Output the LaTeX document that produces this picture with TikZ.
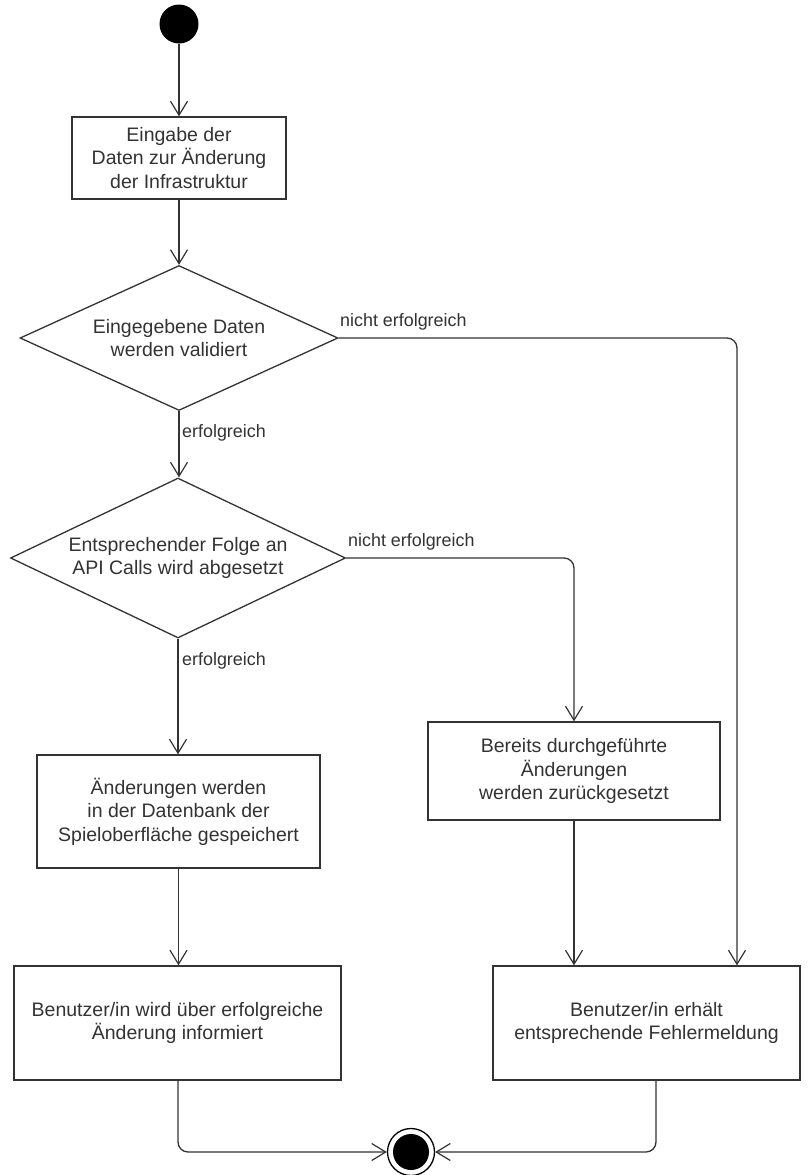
\documentclass[tikz,border=0pt]{standalone}
\usepackage{fontspec}
\setmainfont{Liberation Sans}
\usetikzlibrary{arrows.meta,shapes.geometric}
\definecolor{linec}{HTML}{333333}
\definecolor{textc}{HTML}{333333}
\tikzset{
  every picture/.style={x=1pt,y=-1pt},
  flow/.style={draw=linec, line width=1.3pt, -{Straight Barb[length=14pt,width=17pt,line width=1.2pt]}, rounded corners=10pt},
  actbox/.style={draw=linec, line width=1.3pt, rectangle, inner sep=0pt, align=center, text=textc, font=\fontsize{19.5}{23.4}\selectfont},
  dia/.style={draw=linec, line width=1.3pt, diamond, inner sep=0pt, shape aspect=1},
  diatext/.style={align=center, text=textc, font=\fontsize{19.5}{23.4}\selectfont},
  elabel/.style={text=textc, font=\fontsize{17.9}{21}\selectfont, inner sep=0pt},
  startnode/.style={circle, fill=black, inner sep=0pt, minimum size=39pt},
  endouter/.style={circle, draw=black, line width=1.3pt, fill=white, inner sep=0pt, minimum size=47pt},
  endinner/.style={circle, fill=black, inner sep=0pt, minimum size=36pt}
}
\begin{document}
\begin{tikzpicture}
\useasboundingbox[fill=white] (0,0) rectangle (808,1175);

\node[startnode] (start) at (179,24) {};
\node[actbox, minimum width=214pt, minimum height=82pt] (b1) at (179,158) {Eingabe der\\Daten zur Änderung\\der Infrastruktur};

\node[dia, minimum width=318pt, minimum height=145pt] (d1) at (179,338) {};
\node[diatext] (d1t) at (179,338) {Eingegebene Daten\\werden validiert};

\node[dia, minimum width=335pt, minimum height=160pt] (d2) at (178,558) {};
\node[diatext] (d2t) at (178,558) {Entsprechender Folge an\\API Calls wird abgesetzt};

\node[actbox, minimum width=283pt, minimum height=113pt] (b3) at (178.5,811.5) {Änderungen werden\\in der Datenbank der\\Spieloberfläche gespeichert};
\node[actbox, minimum width=292pt, minimum height=98pt] (b4) at (574,771) {Bereits durchgeführte\\Änderungen\\werden zurückgesetzt};

\node[actbox, minimum width=327pt, minimum height=114pt] (b5) at (177.5,1023) {Benutzer/in wird über erfolgreiche\\Änderung informiert};
\node[actbox, minimum width=307pt, minimum height=114pt] (b6) at (646.5,1023) {Benutzer/in erhält\\entsprechende Fehlermeldung};

\node[endouter] (endo) at (411,1152) {};
\node[endinner] (endi) at (411,1152) {};

\coordinate (c1) at (737,338);
\coordinate (c2) at (574,558);
\coordinate (c5) at (178,1152);
\coordinate (c6) at (656,1152);

\draw[flow] (start) -- (b1);
\draw[flow] (b1) -- (d1);
\draw[flow] (d1.south) -- (d1.south |- d2.north);
\draw[flow] (d1.east) -- (c1) -- (c1 |- b6.north);
\draw[flow] (d2.south) -- (d2.south |- b3.north);
\draw[flow] (d2.east) -- (c2) -- (b4.north);
\draw[flow] (b3.south) -- (b3.south |- b5.north);
\draw[flow] (b4.south) -- (b4.south |- b6.north);
\draw[flow] (b5.south -| c5) -- (c5) -- (endo.west);
\draw[flow] (b6.south -| c6) -- (c6) -- (endo.east);

\node[elabel, anchor=south west] (l1) at (340,330) {nicht erfolgreich};
\node[elabel, anchor=west] (l2) at (182,433) {erfolgreich};
\node[elabel, anchor=south west] (l3) at (348,550) {nicht erfolgreich};
\node[elabel, anchor=west] (l4) at (182,661) {erfolgreich};
\end{tikzpicture}
\end{document}
